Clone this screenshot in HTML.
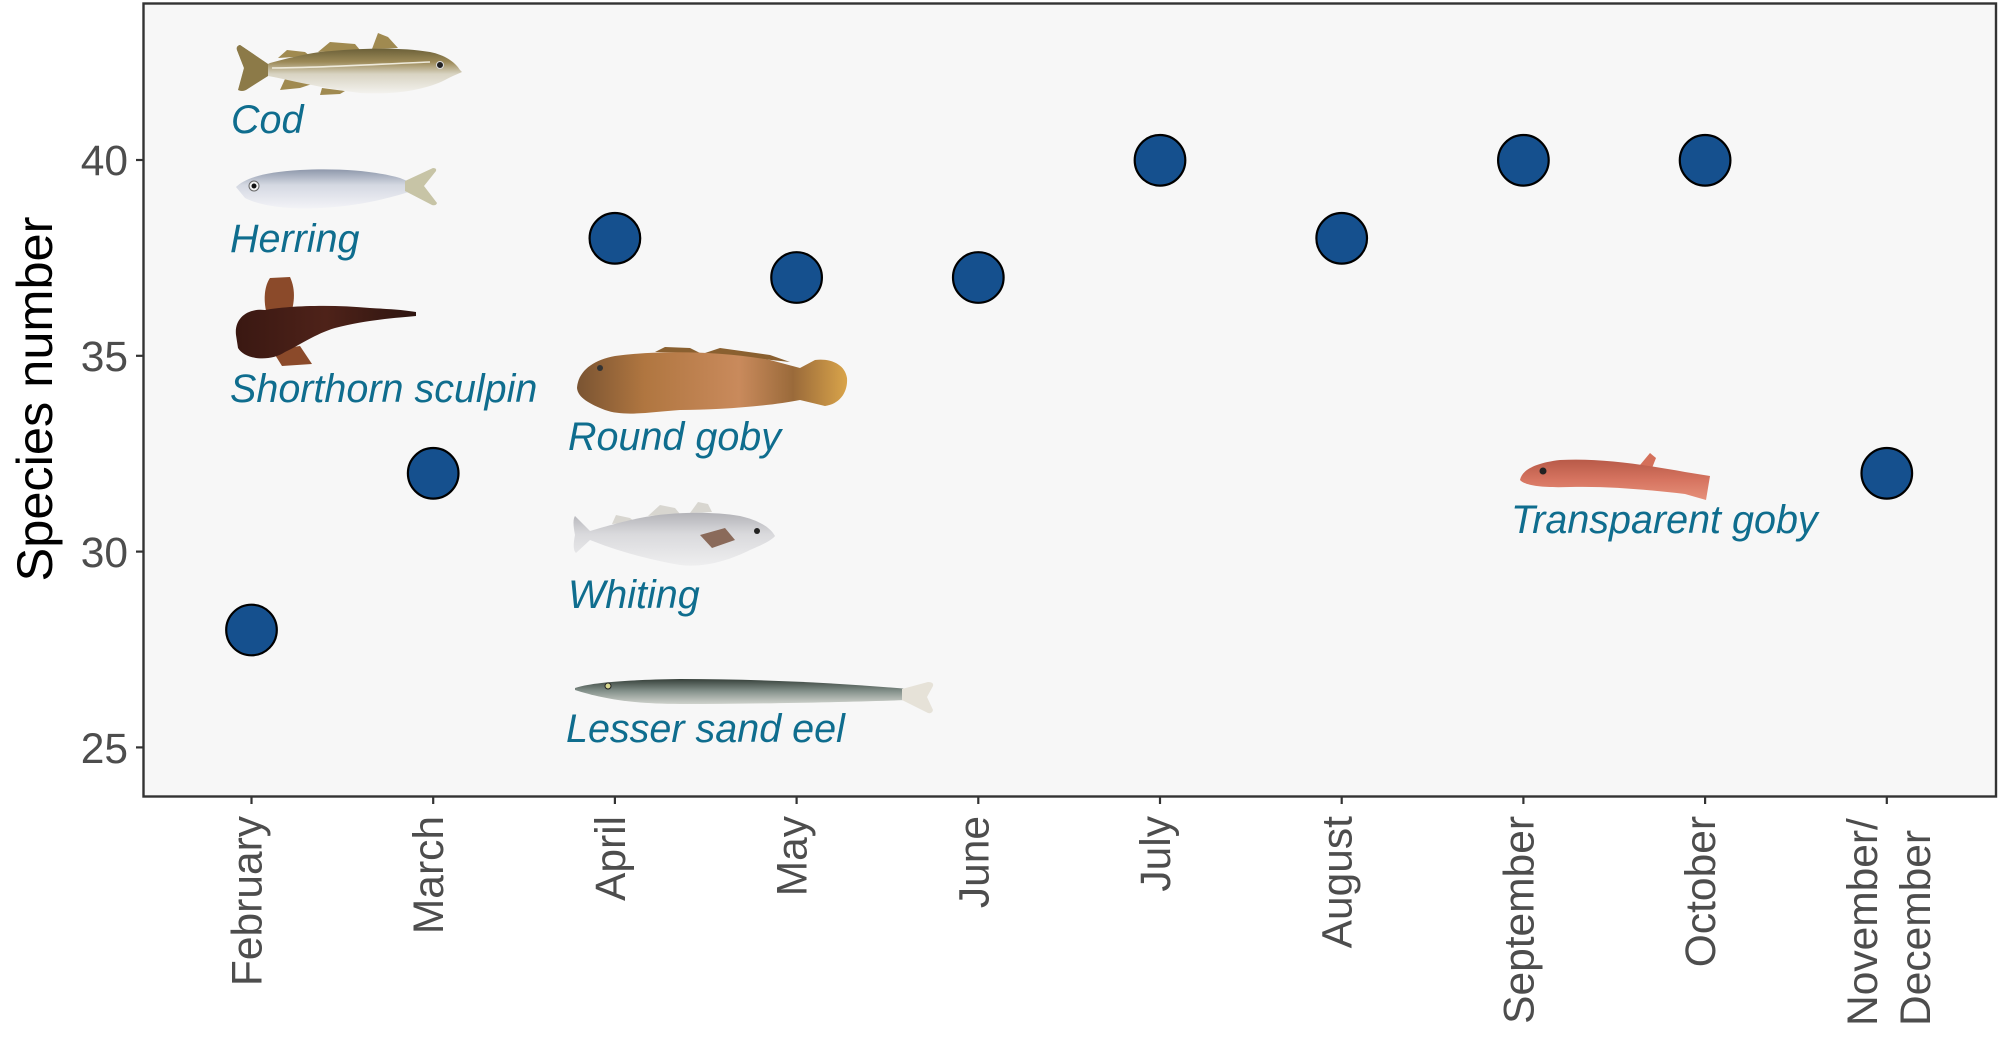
<!DOCTYPE html>
<html>
<head>
<meta charset="utf-8">
<style>
  html, body { margin: 0; padding: 0; background: #ffffff; }
  svg { display: block; }
</style>
</head>
<body>
<svg width="2000" height="1042" viewBox="0 0 2000 1042" xmlns="http://www.w3.org/2000/svg">
  <defs>
    <linearGradient id="codG" x1="0" y1="0" x2="0" y2="1">
      <stop offset="0" stop-color="#5e5530"/>
      <stop offset="0.35" stop-color="#9c8a58"/>
      <stop offset="0.6" stop-color="#d8d3c2"/>
      <stop offset="1" stop-color="#f3f2ee"/>
    </linearGradient>
    <linearGradient id="herG" x1="0" y1="0" x2="0" y2="1">
      <stop offset="0" stop-color="#8e98ab"/>
      <stop offset="0.4" stop-color="#d4d8e2"/>
      <stop offset="1" stop-color="#f3f3f7"/>
    </linearGradient>
    <linearGradient id="sculG" x1="0" y1="0" x2="1" y2="0">
      <stop offset="0" stop-color="#3a1812"/>
      <stop offset="0.5" stop-color="#4e2219"/>
      <stop offset="1" stop-color="#2e1510"/>
    </linearGradient>
    <linearGradient id="gobyG" x1="0" y1="0" x2="1" y2="0">
      <stop offset="0" stop-color="#7a5432"/>
      <stop offset="0.25" stop-color="#b07640"/>
      <stop offset="0.6" stop-color="#c98a5c"/>
      <stop offset="0.8" stop-color="#9a6a3a"/>
      <stop offset="1" stop-color="#d9a44a"/>
    </linearGradient>
    <linearGradient id="whitG" x1="0" y1="0" x2="0" y2="1">
      <stop offset="0" stop-color="#b3b3b8"/>
      <stop offset="0.4" stop-color="#d9d9dc"/>
      <stop offset="1" stop-color="#eeeeef"/>
    </linearGradient>
    <linearGradient id="eelG" x1="0" y1="0" x2="0" y2="1">
      <stop offset="0" stop-color="#36403a"/>
      <stop offset="0.45" stop-color="#7f8c86"/>
      <stop offset="1" stop-color="#cfd2cc"/>
    </linearGradient>
    <linearGradient id="tgobyG" x1="0" y1="0" x2="0" y2="1">
      <stop offset="0" stop-color="#b85a48"/>
      <stop offset="0.5" stop-color="#d67460"/>
      <stop offset="1" stop-color="#e6907a"/>
    </linearGradient>
  </defs>

  <!-- panel -->
  <rect x="143.5" y="3.5" width="1852.5" height="793" fill="#f7f7f7" stroke="#333333" stroke-width="2.4"/>

  <!-- y ticks -->
  <g stroke="#333333" stroke-width="2.2">
    <line x1="136" y1="160" x2="143" y2="160"/>
    <line x1="136" y1="355.8" x2="143" y2="355.8"/>
    <line x1="136" y1="551.6" x2="143" y2="551.6"/>
    <line x1="136" y1="747.4" x2="143" y2="747.4"/>
  </g>
  <g font-family="Liberation Sans, Arial, sans-serif" font-size="42.5" fill="#4d4d4d" text-anchor="end">
    <text x="128" y="175">40</text>
    <text x="128" y="371">35</text>
    <text x="128" y="567">30</text>
    <text x="128" y="763">25</text>
  </g>

  <!-- y title -->
  <text transform="translate(52,399) rotate(-90)" font-family="Liberation Sans, Arial, sans-serif" font-size="50.5" fill="#000000" text-anchor="middle">Species number</text>

  <!-- x ticks -->
  <g stroke="#333333" stroke-width="2.2">
    <line x1="251.5" y1="797" x2="251.5" y2="804"/>
    <line x1="433.2" y1="797" x2="433.2" y2="804"/>
    <line x1="614.9" y1="797" x2="614.9" y2="804"/>
    <line x1="796.6" y1="797" x2="796.6" y2="804"/>
    <line x1="978.3" y1="797" x2="978.3" y2="804"/>
    <line x1="1160" y1="797" x2="1160" y2="804"/>
    <line x1="1341.7" y1="797" x2="1341.7" y2="804"/>
    <line x1="1523.4" y1="797" x2="1523.4" y2="804"/>
    <line x1="1705.1" y1="797" x2="1705.1" y2="804"/>
    <line x1="1886.8" y1="797" x2="1886.8" y2="804"/>
  </g>
  <g font-family="Liberation Sans, Arial, sans-serif" font-size="42.5" fill="#4d4d4d" text-anchor="end">
    <text transform="translate(261.5,816) rotate(-90)">February</text>
    <text transform="translate(443.2,816) rotate(-90)">March</text>
    <text transform="translate(624.9,816) rotate(-90)">April</text>
    <text transform="translate(806.6,816) rotate(-90)">May</text>
    <text transform="translate(988.3,816) rotate(-90)">June</text>
    <text transform="translate(1170,816) rotate(-90)">July</text>
    <text transform="translate(1351.7,816) rotate(-90)">August</text>
    <text transform="translate(1533.4,816) rotate(-90)">September</text>
    <text transform="translate(1715.1,816) rotate(-90)">October</text>
    <text transform="translate(1877,1026) rotate(-90)" text-anchor="start">November/</text>
    <text transform="translate(1930,1026) rotate(-90)" text-anchor="start">December</text>
  </g>

  <!-- fish: Cod -->
  <g>
    <path d="M372,49 L378,33 L388,37 L398,48 Z" fill="#a08a50"/>
    <path d="M318,52 L330,42 L355,44 L360,50 Z" fill="#a08a50"/>
    <path d="M278,58 L287,50 L305,52 L310,56 Z" fill="#a08a50"/>
    <path d="M285,79 L280,90 L300,88 L312,84 Z" fill="#a08a50"/>
    <path d="M322,88 L320,95 L340,94 L345,91 Z" fill="#a08a50"/>
    <path d="M460,70 C455,62 445,55 430,52 C400,47 360,48 320,52 C300,55 285,59 270,63 L268,64 L240,45 Q236,46 237,50 L244,68 L238,90 Q242,92 246,90 L268,76 C290,80 320,88 360,93 C395,95 425,90 445,80 C452,76 458,74 462,72 Z" fill="url(#codG)"/>
    <path d="M240,45 Q236,46 237,50 L244,68 L238,90 Q242,92 246,90 L268,76 L268,64 Z" fill="#8c7a48"/>
    <path d="M272,68 C320,68 380,64 430,62" stroke="#eeeadb" stroke-width="1.6" fill="none"/>
    <circle cx="440" cy="65" r="3.5" fill="#222" stroke="#ddd" stroke-width="1"/>
  </g>

  <!-- Herring -->
  <g>
    <path d="M236,187 C245,178 265,172 300,170 C340,168 375,171 400,178 L412,183 L412,191 C390,198 360,206 320,208 C290,210 260,206 245,198 Z" fill="url(#herG)"/>
    <path d="M405,181 L433,168 Q437,168 436,171 L424,186 L437,203 Q436,206 432,205 L405,191 Z" fill="#c7c4a6"/>
    <circle cx="254" cy="186" r="5" fill="#f2f2f2" stroke="#666" stroke-width="1"/>
    <circle cx="254" cy="186" r="2.5" fill="#111"/>
  </g>

  <!-- Shorthorn sculpin -->
  <g>
    <path d="M268,318 C262,300 265,285 270,278 L290,277 C296,290 295,305 288,322 Z" fill="#8b4a2a"/>
    <path d="M272,350 L282,366 L312,364 L300,346 Z" fill="#8b4a2a"/>
    <path d="M236,335 C234,318 248,308 265,310 C285,306 330,304 370,308 C390,309 405,310 416,312 L416,316 C395,318 365,320 335,328 C315,334 300,345 285,352 C270,362 245,360 238,348 Z" fill="url(#sculG)"/>
  </g>

  <!-- Round goby -->
  <g>
    <path d="M655,352 L665,347 L690,348 L700,353 Z" fill="#8a6030"/>
    <path d="M705,353 L720,348 L770,355 L790,362 Z" fill="#8a6030"/>
    <path d="M577,388 C578,372 592,360 615,356 C660,350 720,351 770,360 L800,368 L815,360 C830,358 845,364 847,378 C848,392 840,404 825,406 L800,400 C770,406 720,410 680,410 C650,412 625,417 605,410 C590,404 578,398 577,388 Z" fill="url(#gobyG)"/>
    <circle cx="600" cy="368" r="3" fill="#333"/>
  </g>

  <!-- Whiting -->
  <g>
    <path d="M612,524 L616,515 L630,518 L635,522 Z" fill="#d8d6d0"/>
    <path d="M648,516 L660,505 L675,508 L680,514 Z" fill="#d8d6d0"/>
    <path d="M690,513 L698,502 L708,504 L712,512 Z" fill="#d8d6d0"/>
    <path d="M775,536 C770,527 758,520 740,516 C710,511 670,512 640,518 C620,522 600,528 590,531 L575,516 Q572,520 575,535 Q572,550 576,553 L590,540 C610,548 640,558 680,565 C705,568 730,560 750,550 C762,545 772,540 775,536 Z" fill="url(#whitG)"/>
    <path d="M700,535 L725,528 L735,540 L712,548 Z" fill="#8a6a5a"/>
    <circle cx="757" cy="531" r="3" fill="#222"/>
  </g>

  <!-- Lesser sand eel -->
  <g>
    <path d="M575,688 C590,683 620,680 680,679 C760,679 840,683 908,689 L908,700 C850,702 760,704 680,704 C630,704 600,698 575,690 Z" fill="url(#eelG)"/>
    <path d="M902,689 L928,682 Q934,682 933,686 L927,697 L933,710 Q932,714 928,713 L902,700 Z" fill="#e6e2d8"/>
    <circle cx="608" cy="686" r="3" fill="#d8d890" stroke="#222" stroke-width="1"/>
  </g>

  <!-- Transparent goby -->
  <g>
    <path d="M1640,465 L1650,453 L1656,458 L1652,468 Z" fill="#d4705a"/>
    <path d="M1520,480 C1522,470 1535,463 1560,460 C1600,458 1640,464 1685,472 L1710,476 L1706,500 L1685,494 C1650,490 1610,486 1570,487 C1545,488 1525,486 1520,480 Z" fill="url(#tgobyG)"/>
    <circle cx="1543" cy="471" r="3.5" fill="#222"/>
  </g>

  <!-- fish labels -->
  <g font-family="Liberation Sans, Arial, sans-serif" font-style="italic" font-size="39.5" fill="#0f6d8e">
    <text x="231" y="133">Cod</text>
    <text x="230" y="252">Herring</text>
    <text x="230" y="402">Shorthorn sculpin</text>
    <text x="568" y="450">Round goby</text>
    <text x="568" y="608">Whiting</text>
    <text x="566" y="742">Lesser sand eel</text>
    <text x="1511" y="533">Transparent goby</text>
  </g>

  <!-- points -->
  <g fill="#15508e" stroke="#000000" stroke-width="2.2">
    <circle cx="251.5" cy="630.0" r="25.3"/>
    <circle cx="433.2" cy="473.3" r="25.3"/>
    <circle cx="614.9" cy="238.3" r="25.3"/>
    <circle cx="796.6" cy="277.5" r="25.3"/>
    <circle cx="978.3" cy="277.5" r="25.3"/>
    <circle cx="1160" cy="160.3" r="25.3"/>
    <circle cx="1341.7" cy="238.3" r="25.3"/>
    <circle cx="1523.4" cy="160.3" r="25.3"/>
    <circle cx="1705.1" cy="160.3" r="25.3"/>
    <circle cx="1886.8" cy="473.3" r="25.3"/>
  </g>
</svg>
</body>
</html>
